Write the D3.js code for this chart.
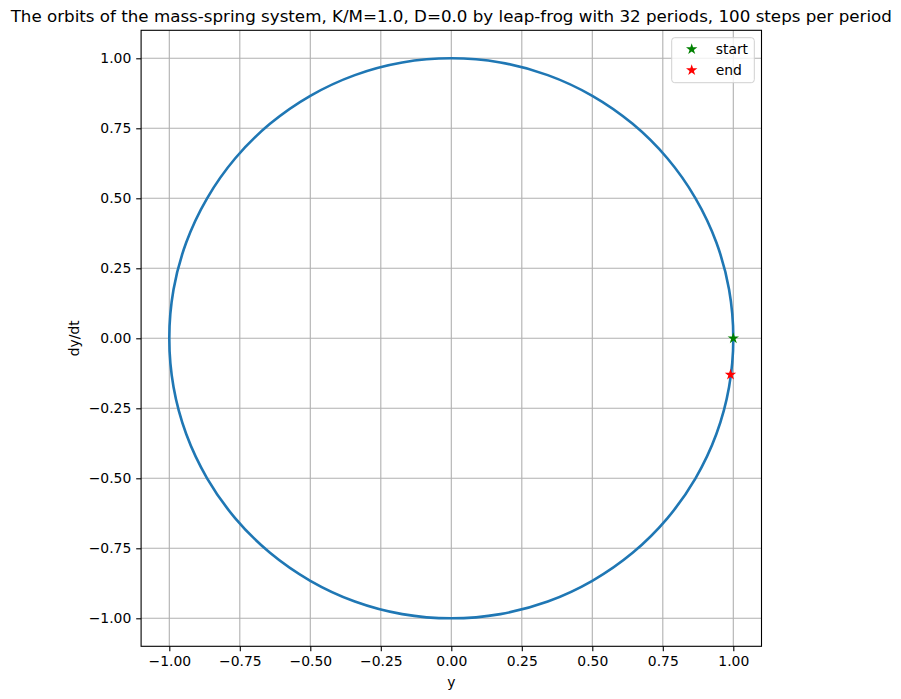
<!DOCTYPE html>
<html>
<head>
<meta charset="utf-8">
<script src="https://cdn.jsdelivr.net/npm/d3@7"></script>
<style>
  body { margin: 0; background: #fff; }
  text { font-family: "DejaVu Sans", sans-serif; }
</style>
</head>
<body>
<div id="container"></div>
<script>
/* CONSTANTS AND GLOBALS */
const width = 901;
const height = 699;

const margin = {
  top: 30.3,
  right: 901 - 761.5,
  bottom: 699 - 646.3,
  left: 141.1
}

/* DATA */
// orbit points, y and dy/dt, going round the circle
const orbitY = [1.000, 0.985, 0.940, 0.866, 0.766, 0.643, 0.500, 0.342, 0.174,
                0.000, -0.174, -0.342, -0.500, -0.643, -0.766, -0.866, -0.940, -0.985,
                -1.000, -0.985, -0.940, -0.866, -0.766, -0.643, -0.500, -0.342, -0.174,
                0.000, 0.174, 0.342, 0.500, 0.643, 0.766, 0.866, 0.940, 0.985];
const orbitV = [0.000, -0.174, -0.342, -0.500, -0.643, -0.766, -0.866, -0.940, -0.985,
                -1.000, -0.985, -0.940, -0.866, -0.766, -0.643, -0.500, -0.342, -0.174,
                0.000, 0.174, 0.342, 0.500, 0.643, 0.766, 0.866, 0.940, 0.985,
                1.000, 0.985, 0.940, 0.866, 0.766, 0.643, 0.500, 0.342, 0.174];

const startPoint = [1.00, 0.00];
const endPoint = [0.99, -0.13];

const tickValues = [-1.00, -0.75, -0.50, -0.25, 0.00, 0.25, 0.50, 0.75, 1.00];

const legendLabels = ["start", "end"];
const legendColors = ["green", "red"];

const titleText = "The orbits of the mass-spring system, K/M=1.0, D=0.0 by leap-frog with 32 periods, 100 steps per period";

const orbit = orbitY.map((y, i) => ({ y: y, v: orbitV[i] }));

// + SCALES
const xScale = d3.scaleLinear()
  .domain([-1.1, 1.1])
  .range([margin.left, width - margin.right])

const yScale = d3.scaleLinear()
  .domain([-1.1, 1.1])
  .range([height - margin.bottom, margin.top])

// CREATE SVG ELEMENT
const svg = d3.select("#container")
  .append("svg")
  .attr("width", width)
  .attr("height", height)

const fmt = d => d3.format(".2f")(d).replace("-", "\u2212");

// GRID
svg.append("g")
  .selectAll("line")
  .data(tickValues)
  .join("line")
  .attr("x1", d => xScale(d)).attr("x2", d => xScale(d))
  .attr("y1", margin.top).attr("y2", height - margin.bottom)
  .attr("stroke", "#b0b0b0").attr("stroke-width", 1.1)

svg.append("g")
  .selectAll("line")
  .data(tickValues)
  .join("line")
  .attr("y1", d => yScale(d)).attr("y2", d => yScale(d))
  .attr("x1", margin.left).attr("x2", width - margin.right)
  .attr("stroke", "#b0b0b0").attr("stroke-width", 1.1)

// BUILD AND CALL AXES
const xAxis = d3.axisBottom(xScale)
  .tickValues(tickValues)
  .tickFormat(fmt)
  .tickSizeInner(4.9)
  .tickSizeOuter(0)
  .tickPadding(4.9)

const xAxisGroup = svg.append("g")
  .attr("transform", `translate(0, ${height - margin.bottom})`)
  .call(xAxis)

const yAxis = d3.axisLeft(yScale)
  .tickValues(tickValues)
  .tickFormat(fmt)
  .tickSizeInner(4.9)
  .tickSizeOuter(0)
  .tickPadding(4.9)

const yAxisGroup = svg.append("g")
  .attr("transform", `translate(${margin.left}, 0)`)
  .call(yAxis)

svg.selectAll(".domain").remove()
svg.selectAll(".tick line").attr("stroke", "#000").attr("stroke-width", 1.1)
svg.selectAll(".tick text")
  .attr("font-family", "DejaVu Sans")
  .attr("font-size", 13.9)
  .attr("fill", "#000")

// ORBIT LINE
const lineGen = d3.line()
  .x(d => xScale(d.y))
  .y(d => yScale(d.v))
  .curve(d3.curveCatmullRomClosed)

svg.append("path")
  .datum(orbit)
  .attr("fill", "none")
  .attr("stroke", "#1f77b4")
  .attr("stroke-width", 2.6)
  .attr("d", lineGen)

// MARKERS
const star = d3.symbol().type(d3.symbolStar).size(40);

svg.append("path")
  .attr("d", star())
  .attr("transform", `translate(${xScale(startPoint[0])}, ${yScale(startPoint[1])})`)
  .attr("fill", legendColors[0])

svg.append("path")
  .attr("d", star())
  .attr("transform", `translate(${xScale(endPoint[0])}, ${yScale(endPoint[1])})`)
  .attr("fill", legendColors[1])

// SPINES
svg.append("rect")
  .attr("x", margin.left)
  .attr("y", margin.top)
  .attr("width", width - margin.right - margin.left)
  .attr("height", height - margin.bottom - margin.top)
  .attr("fill", "none")
  .attr("stroke", "#000")
  .attr("stroke-width", 1.1)

// TITLE AND LABELS
svg.append("text")
  .attr("x", (margin.left + width - margin.right) / 2)
  .attr("y", margin.top - 8.5)
  .attr("text-anchor", "middle")
  .attr("font-size", 16.7)
  .text(titleText)

svg.append("text")
  .attr("x", (margin.left + width - margin.right) / 2)
  .attr("y", 686.5)
  .attr("text-anchor", "middle")
  .attr("font-size", 13.9)
  .text("y")

svg.append("text")
  .attr("transform", `translate(${79}, ${(margin.top + height - margin.bottom) / 2}) rotate(-90)`)
  .attr("text-anchor", "middle")
  .attr("font-size", 13.9)
  .text("dy/dt")

// LEGEND
const legend = svg.append("g")
  .attr("transform", `translate(${671.7}, ${37.7})`)

legend.append("rect")
  .attr("width", 82.6)
  .attr("height", 45)
  .attr("rx", 3)
  .attr("fill", "#fff")
  .attr("fill-opacity", 0.8)
  .attr("stroke", "#d0d0d0")
  .attr("stroke-width", 1)

legendLabels.forEach((label, i) => {
  legend.append("path")
    .attr("d", star())
    .attr("transform", `translate(${20}, ${11.5 + i * 21})`)
    .attr("fill", legendColors[i])
  legend.append("text")
    .attr("x", 44)
    .attr("y", 11.5 + i * 21)
    .attr("dy", "0.35em")
    .attr("font-size", 13.9)
    .text(label)
})
</script>
</body>
</html>
